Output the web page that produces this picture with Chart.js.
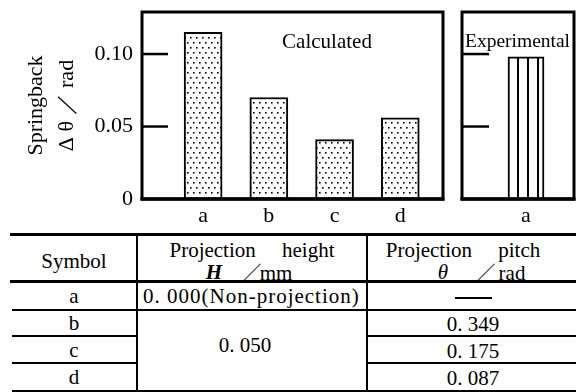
<!DOCTYPE html>
<html>
<head>
<meta charset="utf-8">
<script src="https://cdn.jsdelivr.net/npm/chart.js@4/dist/chart.umd.min.js"></script>
<style>
  html, body { margin: 0; padding: 0; background: #fff; }
  #wrap { position: relative; width: 576px; height: 392px; overflow: hidden; background: #fff; color: #000; }
  canvas { position: absolute; top: 0; }
  .t { position: absolute; font-size: 21px; line-height: 1; white-space: pre; transform: translate(-50%, -50%); font-family: 'Liberation Serif', 'Times New Roman', serif; }
  .tl { position: absolute; font-size: 21px; line-height: 1; white-space: pre; transform: translate(0, -50%); font-family: 'Liberation Serif', 'Times New Roman', serif; }
  .ln { position: absolute; background: #000; }
</style>
</head>
<body>
<div id="wrap">
  <canvas id="calc" width="450" height="232" style="left:0;width:450px;height:232px"></canvas>
  <canvas id="exp" width="126" height="232" style="left:450px;width:126px;height:232px"></canvas>
  <div id="table"></div>
</div>
<script>
// ---- data ----
const calcCategories = ['a', 'b', 'c', 'd'];
const calcValues = [0.115, 0.070, 0.041, 0.056];
const expCategories = ['a'];
const expValues = [0.098];
const yTickValues = [0, 0.05, 0.10];
const yTickLabels = ['0', '0.05', '0.10'];
const yTitleLines = ['Springback', 'Δ θ ／ rad'];
const calcLabel = 'Calculated';
const expLabel = 'Experimental';
const tableSymbols = ['a', 'b', 'c', 'd'];
const tableHeightValues = ['0. 000(Non-projection)', '0. 050'];
const tablePitchValues = ['—', '0. 349', '0. 175', '0. 087'];

const SERIF = "'Liberation Serif', 'Times New Roman', serif";

function dotPattern() {
  const c = document.createElement('canvas');
  c.width = 6; c.height = 10;
  const g = c.getContext('2d');
  g.fillStyle = '#fff'; g.fillRect(0, 0, 6, 10);
  g.fillStyle = '#000';
  g.fillRect(1, 2, 1.6, 1.6);
  g.fillRect(4, 7, 1.6, 1.6);
  return g.createPattern(c, 'repeat');
}
function stripePattern() {
  const c = document.createElement('canvas');
  c.width = 10; c.height = 10;
  const g = c.getContext('2d');
  g.fillStyle = '#fff'; g.fillRect(0, 0, 10, 10);
  g.fillStyle = '#000';
  g.fillRect(7, 0, 2, 10);
  return g.createPattern(c, 'repeat');
}

function framePlugin(tickLen, label, labelX, labelAlign) {
  return {
    id: 'frame',
    afterDatasetsDraw(chart) {
      const { ctx, chartArea: a, scales } = chart;
      ctx.save();
      ctx.strokeStyle = '#000';
      ctx.lineWidth = 3;
      ctx.strokeRect(a.left, a.top, a.right - a.left, a.bottom - a.top);
      ctx.lineWidth = 3.5;
      ctx.beginPath(); ctx.moveTo(a.left - 1.5, a.bottom); ctx.lineTo(a.right + 1.5, a.bottom); ctx.stroke();
      ctx.lineWidth = 2.5;
      yTickValues.forEach(v => {
        if (v === 0) return;
        const y = scales.y.getPixelForValue(v);
        ctx.beginPath(); ctx.moveTo(a.left, y); ctx.lineTo(a.left + tickLen, y); ctx.stroke();
      });
      ctx.fillStyle = '#000';
      ctx.font = label.font;
      ctx.textAlign = labelAlign;
      ctx.textBaseline = 'middle';
      ctx.fillText(label.text, labelX, 42);
      ctx.restore();
    }
  };
}

function yScale(showLabels, width) {
  return {
    min: 0, max: 0.129,
    afterBuildTicks: s => { s.ticks = yTickValues.map(v => ({ value: v })); },
    afterFit: s => { s.width = width; s.paddingTop = 0; s.paddingBottom = 0; },
    grid: { display: false, drawTicks: false },
    border: { display: false },
    ticks: {
      display: showLabels, padding: 9, color: '#000',
      font: { family: SERIF, size: 22 },
      callback: (v) => yTickLabels[yTickValues.indexOf(v)]
    },
    title: showLabels ? {
      display: true, text: yTitleLines, color: '#000',
      font: { family: SERIF, size: 22, lineHeight: 1.4 },
      padding: { top: 21, bottom: 0 }
    } : { display: false }
  };
}

function xScale(cats, min, max) {
  return {
    type: 'linear', min: min, max: max, offset: false,
    afterBuildTicks: s => { s.ticks = cats.map((c, i) => ({ value: i + 1 })); },
    afterFit: s => { s.height = 33; s.paddingLeft = 0; s.paddingRight = 0; },
    grid: { display: false, drawTicks: false },
    border: { display: false },
    ticks: {
      padding: 4, color: '#000', font: { family: SERIF, size: 22 },
      callback: (v) => cats[v - 1]
    }
  };
}

Chart.defaults.animation = false;
Chart.defaults.font.family = SERIF;

new Chart(document.getElementById('calc'), {
  type: 'bar',
  data: {
    datasets: [{
      data: calcValues.map((v, i) => ({ x: i + 1, y: v })),
      backgroundColor: dotPattern(),
      borderColor: '#000', borderWidth: 2, borderSkipped: 'bottom',
      barThickness: 38
    }]
  },
  options: {
    responsive: false, animation: false,
    layout: { padding: { top: 12, right: 7, left: 0, bottom: 0 } },
    plugins: { legend: { display: false }, tooltip: { enabled: false } },
    scales: { x: xScale(calcCategories, 0.07, 4.65), y: yScale(true, 142) }
  },
  plugins: [framePlugin(26, { text: calcLabel, font: "21px " + SERIF }, 327, 'center')]
});

new Chart(document.getElementById('exp'), {
  type: 'bar',
  data: {
    datasets: [{
      data: expValues.map((v, i) => ({ x: i + 1, y: v })),
      backgroundColor: stripePattern(),
      borderColor: '#000', borderWidth: 2, borderSkipped: 'bottom',
      barThickness: 36
    }]
  },
  options: {
    responsive: false, animation: false,
    layout: { padding: { top: 12, right: 2, left: 0, bottom: 0 } },
    plugins: { legend: { display: false }, tooltip: { enabled: false } },
    scales: { x: xScale(expCategories, 0, 1.75), y: yScale(false, 12) }
  },
  plugins: [framePlugin(27, { text: expLabel, font: "19.5px " + SERIF }, 15, 'left')]
});

// ---- table ----
const T = document.getElementById('table');
function line(x, y, w, h) {
  const d = document.createElement('div'); d.className = 'ln';
  d.style.left = x + 'px'; d.style.top = y + 'px'; d.style.width = w + 'px'; d.style.height = h + 'px';
  T.appendChild(d);
}
function text(str, x, y, cls, extra) {
  const d = document.createElement('div'); d.className = cls || 't';
  d.style.left = x + 'px'; d.style.top = y + 'px';
  if (extra) Object.assign(d.style, extra);
  d.innerHTML = str;
  T.appendChild(d);
}
line(10, 233, 566, 3);
line(10, 280, 566, 3);
line(12, 309, 564, 1.5);
line(12, 335, 125, 1.5); line(367, 335, 209, 1.5);
line(12, 362, 125, 1.5); line(367, 362, 209, 1.5);
line(12, 390, 564, 1.5);
line(136, 235, 2, 157);
line(366, 235, 2, 157);

text('Symbol', 74, 261);
text('Projection     height', 252, 250);
text('<i><b>H</b></i>', 214, 272);
text('／', 251, 272, 't', { fontFamily: "'Noto Sans CJK SC'" });
text('mm', 276, 273);
text('Projection     pitch', 463, 250);
text('<i>θ</i>', 443, 272);
text('／', 485, 272, 't', { fontFamily: "'Noto Sans CJK SC'" });
text('rad', 512, 273);

tableSymbols.forEach((s, i) => text(s, 74, [296, 323, 350, 377][i]));
text(tableHeightValues[0], 143, 296, 'tl', { letterSpacing: '1px' });
text(tableHeightValues[1], 245, 345);
line(455, 297, 37, 2); // dash for "no pitch"
tablePitchValues.slice(1).forEach((s, i) => text(s, 473, [324, 351, 378][i]));
</script>
</body>
</html>
